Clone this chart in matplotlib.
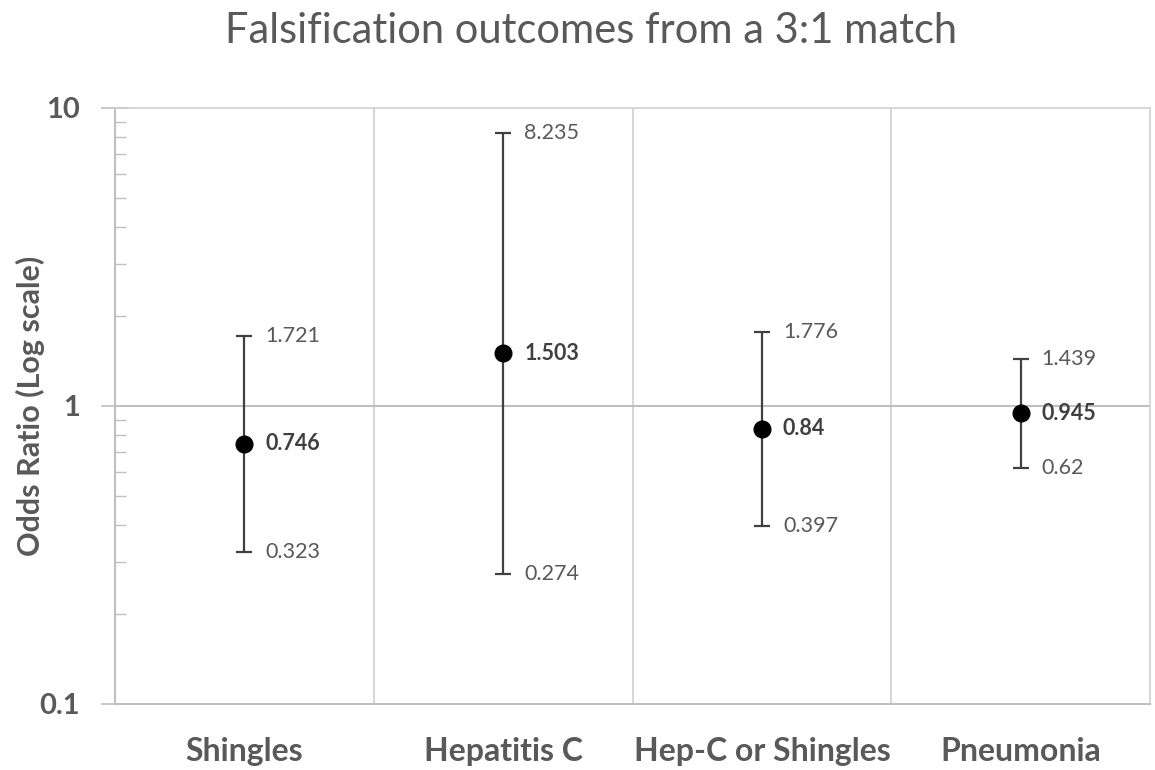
import matplotlib
matplotlib.use("Agg")
import matplotlib.pyplot as plt
from matplotlib.ticker import LogLocator, NullFormatter, FixedLocator

categories = ["Shingles", "Hepatitis C", "Hep-C or Shingles", "Pneumonia"]
odds = [0.746, 1.503, 0.84, 0.945]
upper = [1.721, 8.235, 1.776, 1.439]
lower = [0.323, 0.274, 0.397, 0.62]
odds_labels = ["0.746", "1.503", "0.84", "0.945"]
upper_labels = ["1.721", "8.235", "1.776", "1.439"]
lower_labels = ["0.323", "0.274", "0.397", "0.62"]
y_ticks = [0.1, 1, 10]
y_tick_labels = ["0.1", "1", "10"]

plt.rcParams['font.family'] = ['Lato', 'DejaVu Sans']
grid_c = "#d0d0d0"
text_c = "#595959"

fig = plt.figure(figsize=(11.55, 7.7), dpi=100)
ax = fig.add_axes([115/1155, 1-704/770, (1150-115)/1155, (704-108)/770])

x = [i + 0.5 for i in range(len(categories))]
yerr = [[o - l for o, l in zip(odds, lower)], [u - o for o, u in zip(odds, upper)]]
ax.errorbar(x, odds, yerr=yerr, fmt='o', color='black', markersize=12,
            ecolor='#404040', elinewidth=1.6, capsize=6, capthick=1.6, zorder=3)

for xi, o, u, l, ol, ul, ll in zip(x, odds, upper, lower, odds_labels, upper_labels, lower_labels):
    ax.annotate(ul, (xi, u), xytext=(21, 0), textcoords='offset pixels',
                va='center', ha='left', fontsize=15.5, color=text_c)
    ax.annotate(ll, (xi, l), xytext=(21, 0), textcoords='offset pixels',
                va='center', ha='left', fontsize=15.5, color=text_c)
    ax.annotate(ol, (xi, o), xytext=(21, 0), textcoords='offset pixels',
                va='center', ha='left', fontsize=15.5, color='#404040', fontweight='bold')

ax.set_yscale('log')
ax.set_ylim(0.1, 10)
ax.set_xlim(0, len(categories))
ax.yaxis.set_major_locator(FixedLocator(y_ticks))
ax.set_yticklabels(y_tick_labels)
ax.yaxis.set_minor_locator(LogLocator(base=10, subs=range(2, 10)))
ax.yaxis.set_minor_formatter(NullFormatter())
ax.tick_params(axis='y', which='major', direction='inout', length=20, width=1.2,
               color='#bfbfbf', labelsize=21, labelcolor=text_c, pad=15)
ax.tick_params(axis='y', which='minor', direction='in', length=8, width=1.0, color='#bfbfbf')
for lab in ax.get_yticklabels():
    lab.set_fontweight('bold')

ax.set_xticks(x)
ax.set_xticklabels(categories, fontsize=23, fontweight='bold', color=text_c)
ax.tick_params(axis='x', which='both', length=0, pad=24)

for b in range(1, len(categories)):
    ax.axvline(b, color=grid_c, lw=1.2, zorder=1)
ax.axhline(1, color='#bfbfbf', lw=1.5, zorder=1)

for s in ['top', 'right']:
    ax.spines[s].set_color(grid_c)
    ax.spines[s].set_linewidth(1.2)
for s in ['left', 'bottom']:
    ax.spines[s].set_color('#bfbfbf')
    ax.spines[s].set_linewidth(1.5)

ax.set_ylabel("Odds Ratio (Log scale)", fontsize=22, fontweight='bold', color=text_c)
ax.yaxis.set_label_coords((45 - 115) / (1150 - 115), 1 - (406 - 108) / (704 - 108))
fig.text(591/1155, 1-31/770, "Falsification outcomes from a 3:1 match", ha='center', va='center',
         fontsize=30, color=text_c)

fig.savefig("out.png", dpi=100)
